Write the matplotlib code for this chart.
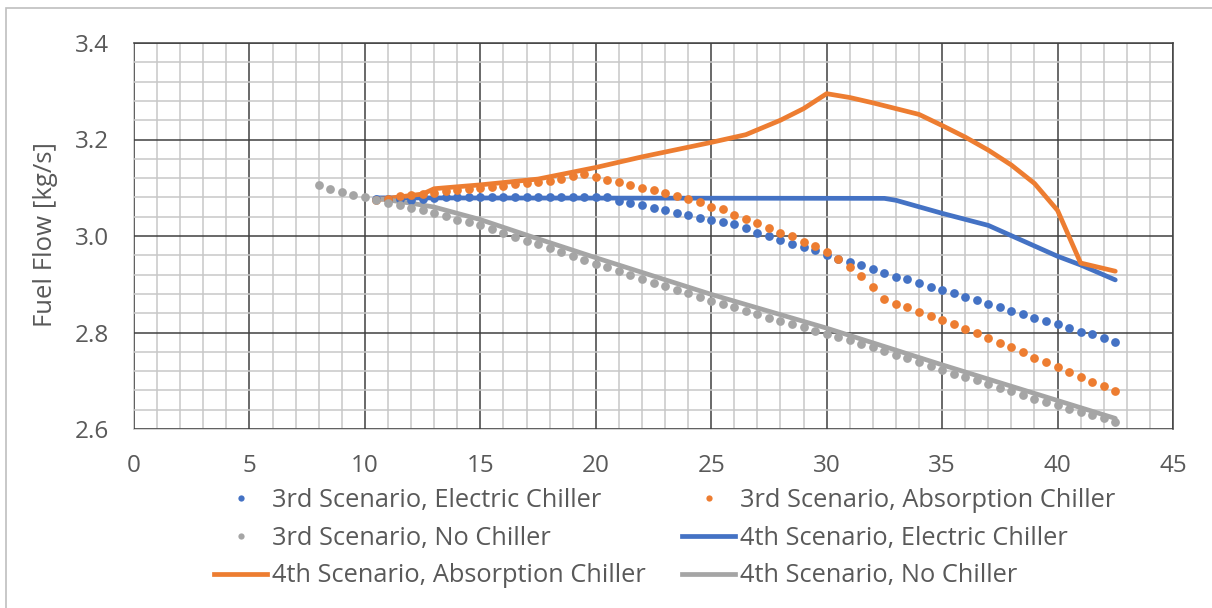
import matplotlib
matplotlib.use("Agg")
import matplotlib.pyplot as plt
from matplotlib.lines import Line2D
from matplotlib.patches import Rectangle
from matplotlib.ticker import MultipleLocator, FormatStrFormatter

plt.rcParams['font.family'] = ['Open Sans', 'DejaVu Sans']

# ---- 3rd scenario (point series) ----
x3_none = [8.0, 8.5, 9.0, 9.5, 10.0, 10.5, 11.0, 11.5, 12.0, 12.5, 13.0, 13.5, 14.0, 14.5,
           15.0, 15.5, 16.0, 16.5, 17.0, 17.5, 18.0, 18.5, 19.0, 19.5, 20.0, 20.5, 21.0, 21.5,
           22.0, 22.5, 23.0, 23.5, 24.0, 24.5, 25.0, 25.5, 26.0, 26.5, 27.0, 27.5, 28.0, 28.5,
           29.0, 29.5, 30.0, 30.5, 31.0, 31.5, 32.0, 32.5, 33.0, 33.5, 34.0, 34.5, 35.0, 35.5,
           36.0, 36.5, 37.0, 37.5, 38.0, 38.5, 39.0, 39.5, 40.0, 40.5, 41.0, 41.5, 42.0, 42.5]
y3_none = [3.105, 3.098, 3.092, 3.086, 3.081, 3.074, 3.069, 3.064, 3.058, 3.053, 3.047, 3.041,
           3.034, 3.028, 3.023, 3.015, 3.006, 2.998, 2.990, 2.983, 2.975, 2.967, 2.958, 2.950,
           2.942, 2.935, 2.927, 2.919, 2.911, 2.903, 2.896, 2.888, 2.881, 2.873, 2.866, 2.859,
           2.852, 2.845, 2.838, 2.831, 2.824, 2.817, 2.811, 2.804, 2.797, 2.790, 2.784, 2.777,
           2.769, 2.762, 2.753, 2.747, 2.738, 2.730, 2.722, 2.715, 2.708, 2.701, 2.693, 2.686,
           2.678, 2.671, 2.663, 2.656, 2.649, 2.642, 2.635, 2.628, 2.622, 2.615]

x3 = [10.5, 11.0, 11.5, 12.0, 12.5, 13.0, 13.5, 14.0, 14.5, 15.0, 15.5, 16.0, 16.5, 17.0,
      17.5, 18.0, 18.5, 19.0, 19.5, 20.0, 20.5, 21.0, 21.5, 22.0, 22.5, 23.0, 23.5, 24.0,
      24.5, 25.0, 25.5, 26.0, 26.5, 27.0, 27.5, 28.0, 28.5, 29.0, 29.5, 30.0, 30.5, 31.0,
      31.5, 32.0, 32.5, 33.0, 33.5, 34.0, 34.5, 35.0, 35.5, 36.0, 36.5, 37.0, 37.5, 38.0,
      38.5, 39.0, 39.5, 40.0, 40.5, 41.0, 41.5, 42.0, 42.5]
y3_electric = [3.077, 3.076, 3.076, 3.075, 3.076, 3.079, 3.080, 3.080, 3.081, 3.081, 3.081,
               3.081, 3.081, 3.081, 3.081, 3.081, 3.081, 3.081, 3.081, 3.081, 3.080, 3.073,
               3.068, 3.064, 3.059, 3.054, 3.048, 3.043, 3.038, 3.033, 3.028, 3.024, 3.017,
               3.006, 2.999, 2.992, 2.984, 2.977, 2.970, 2.961, 2.953, 2.946, 2.939, 2.931,
               2.924, 2.916, 2.910, 2.903, 2.895, 2.888, 2.881, 2.874, 2.867, 2.860, 2.853,
               2.845, 2.838, 2.831, 2.824, 2.817, 2.809, 2.802, 2.796, 2.788, 2.780]
y3_absorption = [3.074, 3.077, 3.083, 3.086, 3.087, 3.090, 3.093, 3.095, 3.097, 3.100, 3.102,
                 3.104, 3.107, 3.110, 3.112, 3.115, 3.118, 3.124, 3.129, 3.122, 3.117, 3.111,
                 3.105, 3.100, 3.095, 3.089, 3.083, 3.077, 3.071, 3.061, 3.055, 3.043, 3.035,
                 3.026, 3.017, 3.006, 2.999, 2.987, 2.979, 2.967, 2.952, 2.936, 2.917, 2.895,
                 2.869, 2.860, 2.853, 2.843, 2.834, 2.825, 2.817, 2.807, 2.799, 2.789, 2.779,
                 2.769, 2.759, 2.748, 2.738, 2.729, 2.718, 2.708, 2.698, 2.689, 2.679]

# ---- 4th scenario (line series) ----
x4_electric = [10.5, 32.5, 33.0, 35.0, 37.0, 40.0, 41.0, 42.5]
y4_electric = [3.079, 3.078, 3.074, 3.047, 3.022, 2.958, 2.940, 2.909]

x4_absorption = [10.5, 12.5, 13.0, 15.0, 17.5, 20.0, 22.0, 25.0, 26.5, 28.0, 29.0, 30.0,
                 31.0, 32.0, 33.0, 34.0, 35.0, 36.0, 37.0, 38.0, 39.0, 40.0, 41.0, 42.5]
y4_absorption = [3.075, 3.087, 3.098, 3.106, 3.118, 3.142, 3.164, 3.194, 3.210, 3.240, 3.264,
                 3.295, 3.287, 3.276, 3.264, 3.252, 3.229, 3.205, 3.178, 3.147, 3.109, 3.053,
                 2.944, 2.927]

x4_none = [10.5, 12.0, 13.0, 15.0, 17.0, 20.0, 25.0, 30.0, 35.0, 40.0, 42.5]
y4_none = [3.078, 3.068, 3.060, 3.034, 3.002, 2.955, 2.879, 2.809, 2.733, 2.659, 2.622]

labels = ["3rd Scenario, Electric Chiller", "3rd Scenario, Absorption Chiller",
          "3rd Scenario, No Chiller", "4th Scenario, Electric Chiller",
          "4th Scenario, Absorption Chiller", "4th Scenario, No Chiller"]

BLUE, ORANGE, GRAY = "#4472C4", "#ED7D31", "#A5A5A5"
TXT = "#595959"
FS = 18.3

W, H = 1212, 608
fig = plt.figure(figsize=(W / 100, H / 100), dpi=100)
ax = fig.add_axes([134 / W, 1 - 429 / H, (1173 - 134) / W, (429 - 43) / H])

# chart-area frame
fig.patches.append(Rectangle((6 / W, -0.5), 2.0, 0.5 + 1 - 8 / H, transform=fig.transFigure,
                             fill=False, edgecolor="#BFBFBF", lw=1.2))

ax.set_xlim(0, 45)
ax.set_ylim(2.6, 3.4)
ax.xaxis.set_major_locator(MultipleLocator(5))
ax.xaxis.set_minor_locator(MultipleLocator(1))
ax.yaxis.set_major_locator(MultipleLocator(0.2))
ax.yaxis.set_minor_locator(MultipleLocator(0.04))
ax.yaxis.set_major_formatter(FormatStrFormatter("%.1f"))
ax.set_axisbelow(True)
ax.grid(which="minor", color="#C8C8C8", lw=1.1)
ax.grid(which="major", color="#404040", lw=1.1)
ax.tick_params(which="both", length=0)
ax.tick_params(axis="y", pad=18.0, labelsize=17.5, labelcolor=TXT)
ax.tick_params(axis="x", pad=18.0, labelsize=17.5, labelcolor=TXT)
for side in ("left", "bottom"):
    ax.spines[side].set_color("#C8C8C8")
    ax.spines[side].set_linewidth(1.1)
    ax.spines[side].set_zorder(0.5)
for side in ("top", "right"):
    ax.spines[side].set_color("#404040")
    ax.spines[side].set_linewidth(1.1)

LW = 3.4
MS = 6.3
ax.plot(x4_electric, y4_electric, color=BLUE, lw=LW, solid_capstyle="round", zorder=2)
ax.plot(x4_absorption, y4_absorption, color=ORANGE, lw=LW, solid_capstyle="round", zorder=2.1)
ax.plot(x4_none, y4_none, color=GRAY, lw=LW, solid_capstyle="round", zorder=2.2)
ax.plot(x3, y3_electric, "o", color=BLUE, ms=MS, mew=0, zorder=3)
ax.plot(x3, y3_absorption, "o", color=ORANGE, ms=MS, mew=0, zorder=3.1)
ax.plot(x3_none, y3_none, "o", color=GRAY, ms=MS, mew=0, zorder=3.2)

fig.text(46 / W, 1 - 234 / H, "Fuel Flow [kg/s]", rotation=90, ha="center", va="center",
         fontsize=18.5, color=TXT)


def dot(c):
    return Line2D([], [], ls="none", marker="o", ms=4.5, mew=0, color=c)


def seg(c):
    return Line2D([], [], color=c, lw=LW)


h = [dot(BLUE), dot(ORANGE), dot(GRAY), seg(BLUE), seg(ORANGE), seg(GRAY)]
common = dict(frameon=False, loc="upper left", borderpad=0, borderaxespad=0, fontsize=FS,
              labelcolor=TXT, handlelength=2.1, handletextpad=0.2, labelspacing=0.5)
for cols, x0 in (([0, 2, 4], 214), ([1, 3, 5], 682)):
    fig.legend([h[i] for i in cols], [labels[i] for i in cols],
               bbox_to_anchor=(x0 / W, 1 - 488 / H), **common)

fig.savefig("out.png", dpi=100)
